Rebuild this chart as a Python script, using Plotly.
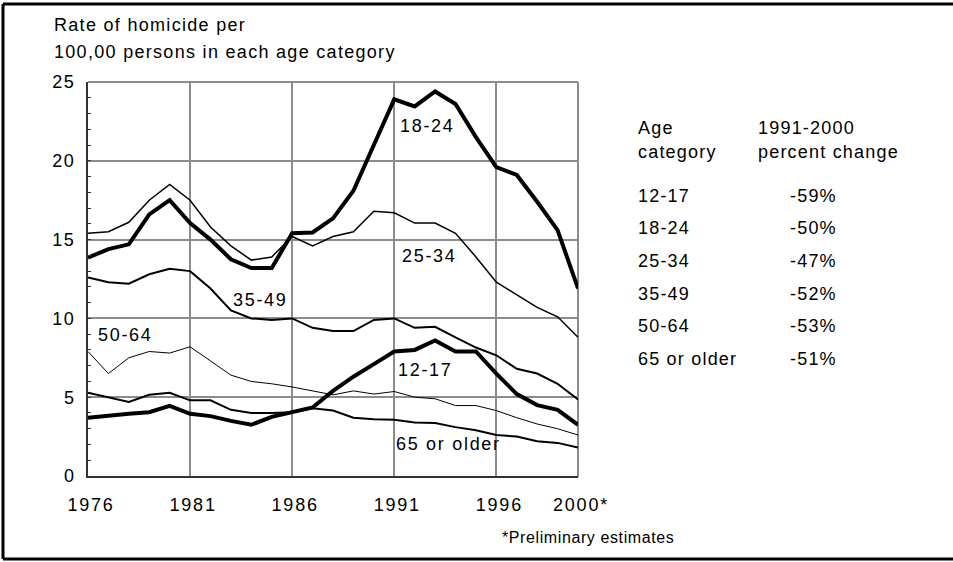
import plotly.graph_objects as go

# homicide rate per 100,000 by age group, 1976-2000
years = list(range(1976, 2001))

age_12_17 = [3.7, 3.85, 3.95, 4.05, 4.45, 3.95, 3.8, 3.5, 3.25, 3.75, 4.05, 4.35, 5.4,
             6.3, 7.1, 7.9, 8.0, 8.6, 7.9, 7.9, 6.5, 5.2, 4.5, 4.2, 3.25]
age_18_24 = [13.85, 14.4, 14.7, 16.6, 17.5, 16.05, 15.0, 13.75, 13.2, 13.2, 15.4, 15.45, 16.35,
             18.1, 21.0, 23.9, 23.45, 24.4, 23.6, 21.5, 19.6, 19.1, 17.4, 15.6, 11.9]
age_25_34 = [15.4, 15.5, 16.1, 17.5, 18.5, 17.5, 15.8, 14.6, 13.7, 13.9, 15.2, 14.6, 15.2,
             15.5, 16.8, 16.7, 16.05, 16.05, 15.4, 13.9, 12.3, 11.5, 10.7, 10.1, 8.8]
age_35_49 = [12.6, 12.3, 12.2, 12.8, 13.15, 13.0, 11.9, 10.5, 10.0, 9.9, 10.0, 9.4, 9.2,
             9.2, 9.9, 10.0, 9.4, 9.47, 8.8, 8.15, 7.66, 6.8, 6.5, 5.85, 4.85]
age_50_64 = [7.9, 6.5, 7.5, 7.9, 7.8, 8.2, 7.3, 6.4, 6.0, 5.85, 5.65, 5.4, 5.15,
             5.4, 5.2, 5.36, 5.0, 4.9, 4.47, 4.47, 4.15, 3.7, 3.3, 3.0, 2.6]
age_65_up = [5.28, 5.0, 4.7, 5.15, 5.28, 4.8, 4.8, 4.2, 4.0, 4.0, 4.05, 4.3, 4.15,
             3.7, 3.6, 3.57, 3.4, 3.36, 3.1, 2.9, 2.6, 2.5, 2.2, 2.1, 1.8]

tick_years = [1976, 1981, 1986, 1991, 1996, 2000]
tick_labels = ["1976", "1981", "1986", "1991", "1996", "2000*"]

table_groups = ["12-17", "18-24", "25-34", "35-49", "50-64", "65 or older"]
table_changes = ["-59%", "-50%", "-47%", "-52%", "-53%", "-51%"]

FONT = "Liberation Sans, Arial, sans-serif"
W, H = 953, 562
L, R, T, B = 88, 375, 82, 86


def spaced(s, ls=1.6):
    return '<span style="letter-spacing:%spx">%s</span>' % (ls, s)


# pixel -> paper helpers for the free-floating text
def px(x):
    return (x - L) / (W - L - R)


def py(y):
    return 1 - (y - T) / (H - T - B)


fig = go.Figure()

series = [
    (age_65_up, 2),
    (age_50_64, 1),
    (age_35_49, 2),
    (age_25_34, 1.5),
    (age_12_17, 4),
    (age_18_24, 4),
]
for vals, w in series:
    fig.add_trace(go.Scatter(x=years, y=vals, mode="lines",
                             line=dict(color="black", width=w), showlegend=False,
                             hoverinfo="skip"))

# labels sitting on the curves
curve_labels = [
    ("18-24", 1992.65, 22.2),
    ("25-34", 1992.75, 13.95),
    ("35-49", 1984.45, 11.15),
    ("50-64", 1977.85, 8.95),
    ("12-17", 1992.55, 6.7),
    ("65 or older", 1993.65, 2.05),
]
for txt, x, y in curve_labels:
    fig.add_annotation(x=x, y=y, text=spaced(txt, 1.7), showarrow=False,
                       font=dict(size=18, family=FONT, color="black"))

# axis title, two lines top-left
fig.add_annotation(xref="paper", yref="paper", x=px(52), y=py(25), xanchor="left",
                   yanchor="middle", showarrow=False, text=spaced("Rate of homicide per", 1.3),
                   font=dict(size=18, family=FONT, color="black"))
fig.add_annotation(xref="paper", yref="paper", x=px(52), y=py(52), xanchor="left",
                   yanchor="middle", showarrow=False,
                   text=spaced("100,00 persons in each age category", 1.3),
                   font=dict(size=18, family=FONT, color="black"))

# side table
hdr = [("Age", 636, 128), ("category", 636, 152),
       ("1991-2000", 756, 128), ("percent change", 756, 152)]
for txt, x, y in hdr:
    fig.add_annotation(xref="paper", yref="paper", x=px(x), y=py(y), xanchor="left",
                       yanchor="middle", showarrow=False, text=spaced(txt, 1.2),
                       font=dict(size=18, family=FONT, color="black"))
row_y = [196, 228.5, 261, 293.5, 326, 358.5]
for g, c, y in zip(table_groups, table_changes, row_y):
    fig.add_annotation(xref="paper", yref="paper", x=px(636), y=py(y), xanchor="left",
                       yanchor="middle", showarrow=False, text=spaced(g, 1.2),
                       font=dict(size=18, family=FONT, color="black"))
    fig.add_annotation(xref="paper", yref="paper", x=px(839), y=py(y), xanchor="right",
                       yanchor="middle", showarrow=False, text=spaced(c, 1.2),
                       font=dict(size=18, family=FONT, color="black"))

fig.add_annotation(xref="paper", yref="paper", x=px(500), y=py(537), xanchor="left",
                   yanchor="middle", showarrow=False, text=spaced("*Preliminary estimates", 0.6),
                   font=dict(size=16, family=FONT, color="black"))

# grey frame on top/right of plot, black frame round the figure
fig.add_shape(type="line", xref="paper", yref="paper", x0=0, x1=1, y0=1, y1=1,
              line=dict(color="#8c8c8c", width=2), layer="below")
fig.add_shape(type="line", xref="paper", yref="paper", x0=1, x1=1, y0=py(477), y1=1,
              line=dict(color="#8c8c8c", width=2), layer="below")
for x0, y0, x1, y1 in [(3, 4, 953, 4), (3, 4, 3, 559), (3, 559, 953, 559)]:
    fig.add_shape(type="line", xref="paper", yref="paper", x0=px(x0), x1=px(x1),
                  y0=py(y0), y1=py(y1), line=dict(color="black", width=3))

fig.update_layout(
    width=W, height=H,
    margin=dict(l=L, r=R, t=T, b=B),
    plot_bgcolor="white", paper_bgcolor="white",
    font=dict(family=FONT, size=18, color="black"),
    xaxis=dict(range=[1976, 2000], tickvals=tick_years,
               ticktext=[spaced(t, 1.8) for t in tick_labels],
               showgrid=True, gridcolor="#8c8c8c", gridwidth=2,
               showline=True, linecolor="#333333", linewidth=2,
               ticks="", ticklabelstandoff=11, ticklabelshift=3,
               zeroline=False, fixedrange=True),
    yaxis=dict(range=[0, 25], tickvals=[0, 5, 10, 15, 20, 25],
               ticktext=[spaced(str(v), 1.5) for v in [0, 5, 10, 15, 20, 25]],
               showgrid=True, gridcolor="#8c8c8c", gridwidth=2,
               showline=True, linecolor="#333333", linewidth=2,
               ticks="inside", ticklen=3, tickcolor="#333333",
               minor=dict(dtick=1, ticks="inside", ticklen=3, tickcolor="#333333", showgrid=False),
               ticklabelstandoff=7, zeroline=False, fixedrange=True),
)

# page body has a default 8px margin; drop it so the figure sits at the window corner
fig.write_html("out.html", config={"displayModeBar": False},
               post_script="document.body.style.margin='0';")
